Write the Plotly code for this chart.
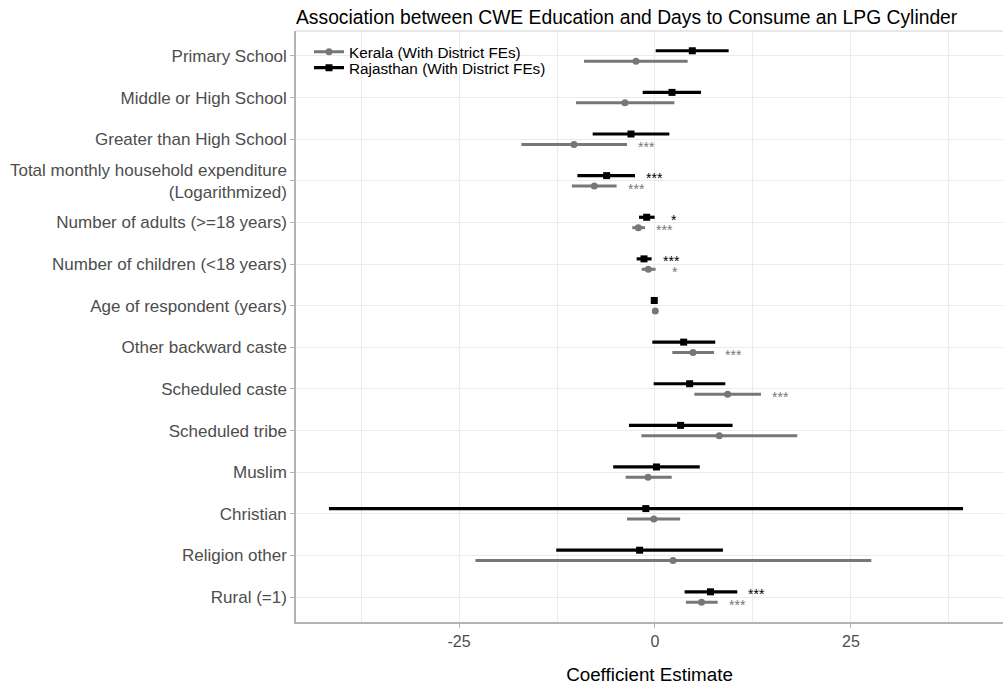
import plotly.graph_objects as go

categories = [
    "Primary School",
    "Middle or High School",
    "Greater than High School",
    "Total monthly household expenditure<br>(Logarithmized)",
    "Number of adults (>=18 years)",
    "Number of children (<18 years)",
    "Age of respondent (years)",
    "Other backward caste",
    "Scheduled caste",
    "Scheduled tribe",
    "Muslim",
    "Christian",
    "Religion other",
    "Rural (=1)",
]

# Kerala (grey, circles)
kerala_est = [-2.42, -3.83, -10.33, -7.74, -2.13, -0.85, 0.04, 4.85, 9.27, 8.2, -0.89, -0.15, 2.3, 5.94]
kerala_lo = [-9.05, -10.08, -17.05, -10.6, -2.9, -1.7, 0.0, 2.21, 5.02, -1.74, -3.74, -3.57, -22.9, 3.95]
kerala_hi = [4.17, 2.47, -3.57, -4.9, -1.28, 0.08, 0.08, 7.53, 13.52, 18.15, 2.13, 3.21, 27.6, 8.0]
kerala_sig = ["", "", "***", "***", "***", "*", "", "***", "***", "", "", "", "", "***"]

# Rajasthan (black, squares)
raj_est = [4.76, 2.17, -3.06, -6.17, -1.06, -1.40, -0.09, 3.66, 4.42, 3.27, 0.19, -1.17, -1.96, 7.08]
raj_lo = [0.09, -1.57, -7.95, -9.9, -2.04, -2.34, -0.13, -0.34, -0.17, -3.32, -5.33, -41.6, -12.6, 3.78]
raj_hi = [9.4, 5.87, 1.83, -2.55, -0.04, -0.43, -0.05, 7.69, 8.97, 9.9, 5.71, 39.3, 8.67, 10.5]
raj_sig = ["", "", "", "***", "*", "***", "", "", "", "", "", "", "", "***"]

series = [
    dict(name="Kerala (With District FEs)", est=kerala_est, lo=kerala_lo, hi=kerala_hi,
         sig=kerala_sig, color="#777777", symbol="circle", size=7, off=-0.125, lw=3,
         legend="legend"),
    dict(name="Rajasthan (With District FEs)", est=raj_est, lo=raj_lo, hi=raj_hi,
         sig=raj_sig, color="#000000", symbol="square", size=7, off=0.125, lw=3.2,
         legend="legend2"),
]

n = len(categories)
ypos = [-i for i in range(n)]

fig = go.Figure()
annotations = []
for s in series:
    xs, ys = [], []
    for i in range(n):
        y = ypos[i] + s["off"]
        xs += [s["lo"][i], s["hi"][i], None]
        ys += [y, y, None]
    fig.add_trace(go.Scatter(x=xs, y=ys, mode="lines",
                             line=dict(color=s["color"], width=s["lw"]),
                             showlegend=False, hoverinfo="skip"))
for s in series:
    mx, my = [], []
    for i in range(n):
        mx += [s["est"][i], None]
        my += [ypos[i] + s["off"], None]
    fig.add_trace(go.Scatter(x=mx, y=my, mode="lines+markers", name=s["name"],
                             legend=s["legend"],
                             line=dict(color=s["color"], width=s["lw"]),
                             marker=dict(color=s["color"], symbol=s["symbol"], size=s["size"])))
    for i in range(n):
        if s["sig"][i]:
            annotations.append(dict(x=s["hi"][i] + 2.5, y=ypos[i] + s["off"] - 0.06,
                                    xref="x", yref="y", text=s["sig"][i], showarrow=False,
                                    font=dict(size=14, color=s["color"], family="Liberation Sans, Arial"),
                                    xanchor="center", yanchor="middle"))

grid = "#ebebeb"
plot_top, plot_h = 31, 595
leg_common = dict(x=(309 - 296) / 707, xanchor="left", yanchor="middle",
                  bgcolor="rgba(255,255,255,0)", font=dict(size=15.3, color="#000000"),
                  itemwidth=30, borderwidth=0)
fig.update_layout(
    width=1003, height=685,
    margin=dict(l=296, r=0, t=31, b=59),
    plot_bgcolor="white", paper_bgcolor="white",
    font=dict(family="Liberation Sans, Arial, sans-serif", color="#4d4d4d"),
    title=dict(text="Association between CWE Education and Days to Consume an LPG Cylinder",
               x=0, xref="paper", xanchor="left", y=1 - 17 / 685, yref="container", yanchor="middle",
               font=dict(size=19.3, color="#000000")),
    xaxis=dict(range=[-45.8, 44.4], tickvals=[-25, 0, 25], ticktext=["-25", "0", "25"],
               showgrid=True, gridcolor=grid, gridwidth=1.2,
               minor=dict(tickvals=[-37.5, -12.5, 12.5, 37.5], showgrid=True, gridcolor=grid, gridwidth=0.7),
               zeroline=False, showline=True, linecolor="#b3b3b3", linewidth=1.5,
               ticks="outside", ticklen=4, tickcolor="#b3b3b3",
               tickfont=dict(size=16, color="#4d4d4d"),
               title=dict(text="Coefficient Estimate", font=dict(size=18.8, color="#000000"), standoff=22)),
    yaxis=dict(range=[-n + 0.4, 0.6], tickvals=ypos, ticktext=categories,
               showgrid=True, gridcolor=grid, gridwidth=1.2, zeroline=False,
               showline=True, linecolor="#b3b3b3", linewidth=1.5,
               ticks="outside", ticklen=4, tickcolor="#b3b3b3",
               tickfont=dict(size=17, color="#4d4d4d")),
    legend=dict(y=1 - (52 - plot_top) / plot_h, **leg_common),
    legend2=dict(y=1 - (68 - plot_top) / plot_h, **leg_common),
    annotations=annotations,
    shapes=[dict(type="line", xref="paper", yref="paper", x0=0, x1=1, y0=1, y1=1,
                 line=dict(color="#d0d0d0", width=1))],
)

fig.write_html("out.html")
